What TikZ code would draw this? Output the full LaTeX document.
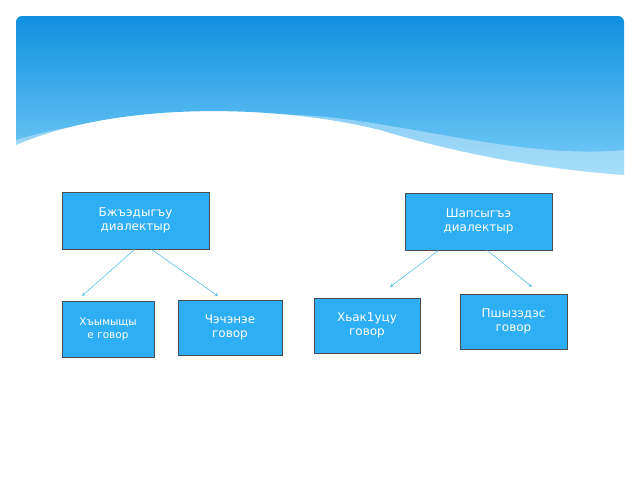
\documentclass[tikz,border=0pt]{standalone}
\usepackage{fontspec}
\setmainfont{DejaVu Sans}
\begin{document}
\begin{tikzpicture}[x=1pt,y=-1pt,
  box/.style={draw=black!70,line width=0.9pt,fill={rgb,255:red,46;green,174;blue,245},text=white,align=center,inner sep=2pt,font=\fontsize{12}{14}\selectfont},
  conn/.style={draw={rgb,255:red,90;green,190;blue,235},line width=0.6pt,-stealth}]
\useasboundingbox (0,0) rectangle (640,480);
\fill[white,rounded corners=6] (16,16) rectangle (624,464);
\begin{scope}
\clip[rounded corners=6] (16,16) rectangle (624,464);
\shade[top color={rgb,255:red,16;green,144;blue,224},bottom color={rgb,255:red,120;green,205;blue,248}]
 (16,16) -- (624,16) -- (624,175) .. controls (560,170) and (480,160) .. (380,130)
 .. controls (280,105) and (120,100) .. (16,145) -- cycle;
\fill[white,opacity=0.35] (16,145) .. controls (120,110) and (260,110) .. (380,135)
 .. controls (480,160) and (560,170) .. (624,175) -- (624,150) .. controls (520,160) and (400,120) .. (300,115) .. controls (180,110) and (80,120) .. (16,140) -- cycle;
\end{scope}
\node[box,minimum width=147,minimum height=57] (b1) at (135.5,220.5) {Бжъэдыгъу\\диалектыр};
\node[box,minimum width=147,minimum height=57] (b2) at (478.5,221.5) {Шапсыгъэ\\диалектыр};
\node[box,minimum width=92,minimum height=56,font=\fontsize{10.5}{13}\selectfont] (c1) at (108,329) {Хъымыщы\\е говор};
\node[box,minimum width=104,minimum height=55] (c2) at (230,327.5) {Чэчэнэе\\говор};
\node[box,minimum width=106,minimum height=55] (c3) at (367,325.5) {Хьак1уцу\\говор};
\node[box,minimum width=107,minimum height=55] (c4) at (513.5,321.5) {Пшызэдэс\\говор};
\coordinate (a1) at (82,296); \coordinate (a2) at (218,296);
\coordinate (a3) at (390,287); \coordinate (a4) at (532,287);
\draw[conn] ([xshift=-1]b1.south) -- (a1);
\draw[conn] ([xshift=16]b1.south) -- (a2);
\draw[conn] ([xshift=-40]b2.south) -- (a3);
\draw[conn] ([xshift=9]b2.south) -- (a4);
\end{tikzpicture}
\end{document}
